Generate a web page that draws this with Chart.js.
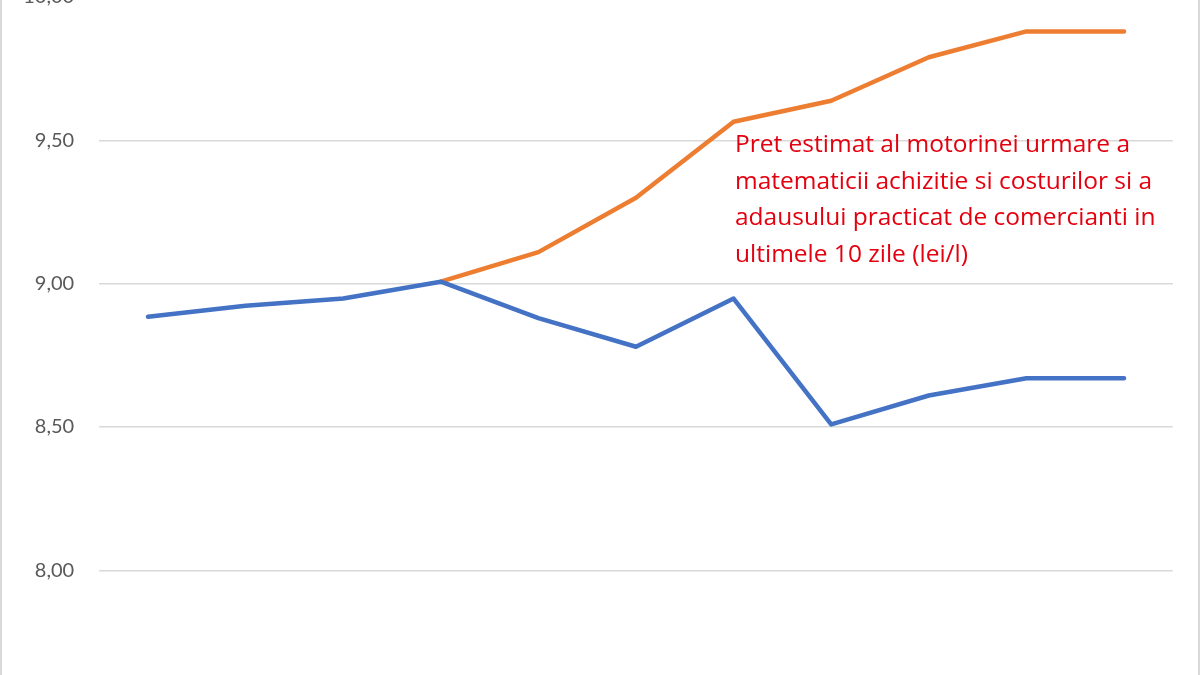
<!DOCTYPE html>
<html>
<head>
<meta charset="utf-8">
<script src="https://cdn.jsdelivr.net/npm/chart.js@4.4.1/dist/chart.umd.min.js"></script>
<style>
  html, body { margin: 0; padding: 0; background: #fff; }
  #wrap { position: relative; width: 1200px; height: 675px; overflow: hidden; }
  #chart { position: absolute; left: 0; top: -40px; }
</style>
</head>
<body>
<div id="wrap"><canvas id="chart" width="1200" height="800"></canvas></div>
<script>
// days (x axis is cut off in the picture)
const zile = ['1', '2', '3', '4', '5', '6', '7', '8', '9', '10', '11'];
// real price (blue)
const pretReal = [8.885, 8.923, 8.948, 9.007, 8.88, 8.78, 8.948, 8.509, 8.61, 8.67, 8.67];
// estimated price (orange), starts at day 4
const pretEstimat = [null, null, null, 9.007, 9.11, 9.30, 9.565, 9.638, 9.79, 9.88, 9.88];
const yTicks = [7.5, 8, 8.5, 9, 9.5, 10];
const nota = [
  'Pret estimat al motorinei urmare a',
  'matematicii achizitie si costurilor si a',
  'adausului practicat de comercianti in',
  'ultimele 10 zile (lei/l)'
];

const notePlugin = {
  id: 'nota',
  afterDraw(chart) {
    const ctx = chart.ctx;
    ctx.save();
    // frame edges
    ctx.fillStyle = '#d9d9d9';
    ctx.fillRect(0, 0, 2, chart.height);
    ctx.fillRect(chart.width - 2, 0, 2, chart.height);
    // red annotation
    ctx.fillStyle = '#e3000f';
    ctx.font = '24.5px "Open Sans"';
    ctx.textBaseline = 'alphabetic';
    ctx.textAlign = 'left';
    nota.forEach((t, i) => {
      ctx.fillText(t, 735, 192 + i * 36.5);
    });
    ctx.restore();
  }
};

const ctx = document.getElementById('chart').getContext('2d');
const myChart = new Chart(ctx, {
  type: 'line',
  data: {
    labels: zile,
    datasets: [
      {
        label: 'Pret',
        data: pretReal,
        borderColor: '#4472c4',
        borderWidth: 4.5,
        pointRadius: 0,
        tension: 0,
        borderCapStyle: 'round',
        borderJoinStyle: 'round'
      },
      {
        label: 'Pret estimat',
        data: pretEstimat,
        borderColor: '#ed7d31',
        borderWidth: 4.5,
        pointRadius: 0,
        tension: 0,
        borderCapStyle: 'round',
        borderJoinStyle: 'round'
      }
    ]
  },
  options: {
    responsive: false,
    animation: false,
    layout: { padding: { top: 35.3, bottom: 46.3, right: 27.2, left: 0 } },
    plugins: { legend: { display: false }, tooltip: { enabled: false } },
    scales: {
      x: {
        display: false,
        offset: true
      },
      y: {
        min: 7.5,
        max: 10,
        afterBuildTicks: (scale) => { scale.ticks = yTicks.map(v => ({ value: v })); },
        afterFit: (scale) => { scale.width = 99.2; },
        border: { display: false },
        grid: { color: '#d9d9d9', lineWidth: 1.5, drawTicks: false },
        ticks: {
          padding: 25,
          color: '#595959',
          font: { family: 'Lato', size: 20 },
          callback: (v) => Number(v).toFixed(2).replace('.', ',')
        }
      }
    }
  },
  plugins: [notePlugin]
});
</script>
</body>
</html>
